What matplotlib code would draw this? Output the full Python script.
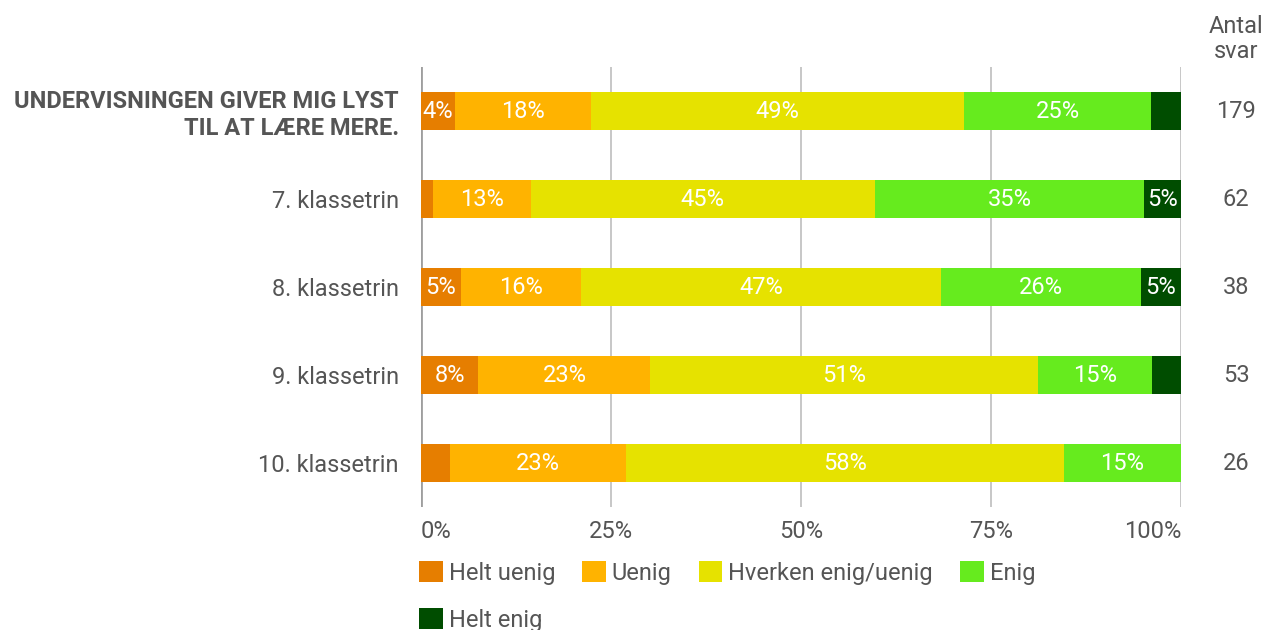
import matplotlib.pyplot as plt

plt.rcParams['font.family'] = ['Roboto', 'DejaVu Sans']

# rows from top to bottom
groups = ["UNDERVISNINGEN GIVER MIG LYST\nTIL AT LÆRE MERE.",
          "7. klassetrin", "8. klassetrin", "9. klassetrin", "10. klassetrin"]
answers = ["Helt uenig", "Uenig", "Hverken enig/uenig", "Enig", "Helt enig"]
colors = ["#E67E00", "#FFB300", "#E6E200", "#66EB1E", "#004D00"]

# number of answers per group
helt_uenig = [8, 1, 2, 4, 1]
uenig = [32, 8, 6, 12, 6]
hverken = [88, 28, 18, 27, 15]
enig = [44, 22, 10, 8, 4]
helt_enig = [7, 3, 2, 2, 0]
counts = [helt_uenig, uenig, hverken, enig, helt_enig]

totals = [sum(c[i] for c in counts) for i in range(len(groups))]

text_grey = "#555555"
fs = 17

fig = plt.figure(figsize=(12.64, 6.3), dpi=100)
ax = fig.add_axes([421 / 1264, 1 - 507 / 630, 760 / 1264, 440 / 630])

ypos = list(range(len(groups)))
left = [0.0] * len(groups)
for name, col, vals in zip(answers, colors, counts):
    pct = [100 * v / t for v, t in zip(vals, totals)]
    ax.barh(ypos, pct, left=left, height=0.43, color=col, label=name, zorder=2)
    for y, l, p in zip(ypos, left, pct):
        if p >= 4:
            ax.text(l + p / 2, y, f"{round(p)}%", ha="center", va="center",
                    color="white", fontsize=fs, zorder=3)
    left = [a + b for a, b in zip(left, pct)]

ax.set_xlim(0, 100)
ax.set_ylim(len(groups) - 0.5, -0.5)
ax.set_xticks([0, 25, 50, 75, 100])
ax.set_xticklabels(["0%", "25%", "50%", "75%", "100%"])
ax.set_yticks(ypos)
ax.set_yticklabels(groups)
ax.tick_params(axis="both", length=0, labelsize=fs, labelcolor=text_grey)
ax.tick_params(axis="y", pad=16)
ax.tick_params(axis="x", pad=9)
ax.get_yticklabels()[0].set_fontweight("bold")
# outer tick labels stay inside the plot width
xlabels = ax.get_xticklabels()
xlabels[0].set_horizontalalignment("left")
xlabels[-1].set_horizontalalignment("right")
for s in ax.spines.values():
    s.set_visible(False)
for x in [25, 50, 75, 100]:
    ax.axvline(x, color="#BDBDBD", lw=1.2, zorder=1)
ax.axvline(0, color="#9E9E9E", lw=2, zorder=1)

# answer counts at the right
for y, t in zip(ypos, totals):
    ax.annotate(str(t), xy=(1236 / 1264, y), xycoords=("figure fraction", "data"),
                ha="center", va="center", fontsize=fs, color=text_grey)
fig.text(1236 / 1264, 1 - 39 / 630, "Antal\nsvar", ha="center", va="center",
         fontsize=fs, color=text_grey, linespacing=1.15)

handles, labels = ax.get_legend_handles_labels()
order = [0, 4, 1, 2, 3]
leg = fig.legend([handles[i] for i in order], [labels[i] for i in order],
                 loc="upper left", bbox_to_anchor=(419 / 1264, 1 - 561 / 630),
                 ncol=4, frameon=False, fontsize=fs, handlelength=1.0,
                 handleheight=1.0, handletextpad=0.25, columnspacing=1.15,
                 labelspacing=1.0, borderaxespad=0, borderpad=0)
for txt in leg.get_texts():
    txt.set_color(text_grey)

fig.savefig("out.png", dpi=100)
